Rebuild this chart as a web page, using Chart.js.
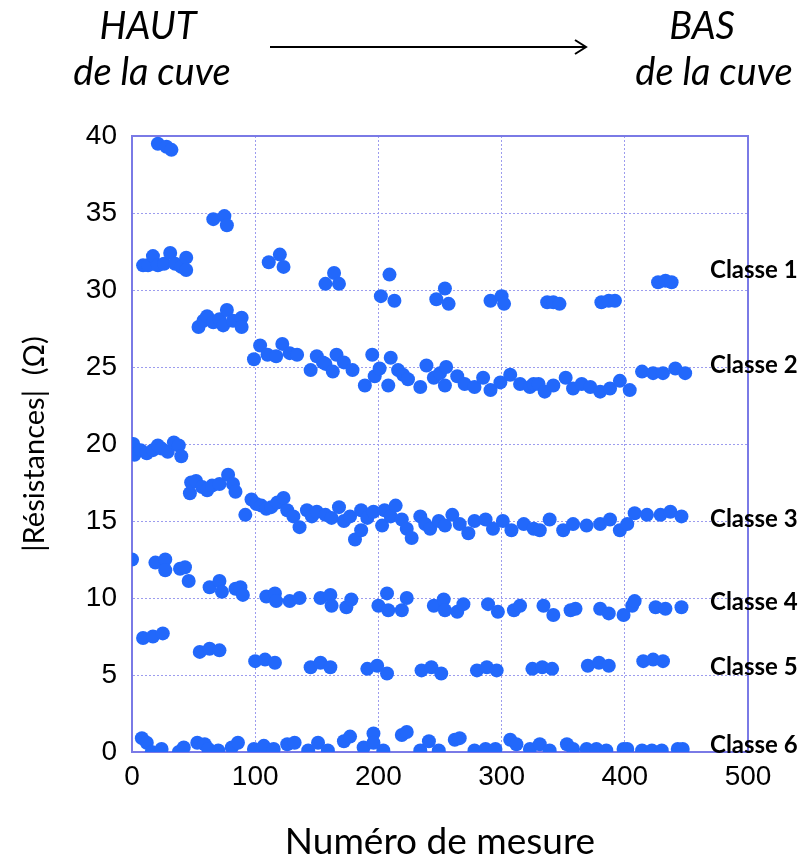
<!DOCTYPE html>
<html>
<head>
<meta charset="utf-8">
<script src="https://cdn.jsdelivr.net/npm/chart.js@4/dist/chart.umd.min.js"></script>
<style>
  html, body { margin: 0; padding: 0; background: #fff; }
  #wrap { width: 803px; height: 861px; position: relative; }
</style>
</head>
<body>
<div id="wrap"><canvas id="chart"></canvas></div>
<script>
var class1X = [21, 28, 32, 66, 75, 77, 9, 13, 17, 21, 26, 31, 35, 40, 44, 44, 111, 120, 123, 157, 164, 168, 202, 209, 213, 247, 254, 257, 291, 300, 302, 337, 342, 347, 381, 387, 392, 427, 433, 438];
var class1Y = [39.5, 39.3, 39.1, 34.6, 34.8, 34.2, 31.6, 31.6, 32.2, 31.6, 31.7, 32.4, 31.7, 31.5, 32.1, 31.3, 31.8, 32.3, 31.5, 30.4, 31.1, 30.4, 29.6, 31.0, 29.3, 29.4, 30.1, 29.1, 29.3, 29.6, 29.1, 29.2, 29.2, 29.1, 29.2, 29.3, 29.3, 30.5, 30.6, 30.5];

var class2X = [54, 58, 61, 66, 71, 74, 77, 82, 89, 89, 99, 104, 110, 117, 122, 128, 134, 145, 150, 155, 157, 163, 166, 172, 179, 189, 195, 197, 201, 208, 210, 216, 220, 224, 234, 239, 245, 250, 254, 255, 264, 270, 278, 285, 291, 299, 307, 315, 323, 326, 330, 335, 342, 352, 358, 365, 372, 380, 388, 396, 404, 414, 423, 431, 441, 449];
var class2Y = [27.6, 28.0, 28.3, 27.9, 28.1, 27.7, 28.7, 28.0, 28.2, 27.6, 25.5, 26.4, 25.8, 25.7, 26.5, 25.9, 25.8, 24.8, 25.7, 25.3, 25.2, 24.7, 25.8, 25.3, 24.8, 23.8, 25.8, 24.4, 24.9, 23.8, 25.6, 24.8, 24.5, 24.2, 23.7, 25.1, 24.3, 24.6, 23.8, 25.0, 24.4, 23.9, 23.7, 24.3, 23.5, 24.0, 24.5, 23.9, 23.7, 23.9, 23.9, 23.4, 23.8, 24.3, 23.6, 23.9, 23.7, 23.4, 23.6, 24.1, 23.5, 24.7, 24.6, 24.6, 24.9, 24.6];

var class3X = [1, 2, 7, 12, 17, 21, 24, 29, 34, 38, 40, 47, 48, 52, 57, 61, 65, 71, 78, 82, 84, 92, 97, 101, 105, 109, 113, 118, 123, 126, 131, 136, 142, 146, 150, 157, 162, 168, 172, 177, 181, 186, 186, 191, 196, 203, 205, 210, 214, 219, 223, 227, 234, 238, 242, 249, 254, 260, 266, 273, 278, 287, 293, 301, 308, 318, 326, 331, 339, 350, 358, 369, 380, 388, 396, 402, 408, 418, 429, 437, 446];
var class3Y = [20.0, 19.3, 19.6, 19.4, 19.6, 19.9, 19.7, 19.5, 20.1, 19.9, 19.2, 16.8, 17.5, 17.6, 17.2, 17.0, 17.3, 17.4, 18.0, 17.4, 16.9, 15.4, 16.4, 16.1, 16.0, 15.8, 15.9, 16.2, 16.5, 15.7, 15.3, 14.6, 15.7, 15.3, 15.6, 15.4, 15.2, 15.9, 15.0, 15.3, 13.8, 15.7, 14.4, 15.2, 15.6, 14.7, 15.7, 15.3, 16.0, 15.1, 14.5, 13.9, 15.3, 14.8, 14.5, 15.0, 14.7, 15.4, 14.8, 14.2, 15.0, 15.1, 14.5, 15.0, 14.4, 14.8, 14.5, 14.4, 15.1, 14.4, 14.8, 14.7, 14.8, 15.1, 14.4, 14.8, 15.5, 15.4, 15.4, 15.6, 15.3];

var class4X = [0, 19, 27, 27, 39, 43, 46, 63, 71, 73, 84, 88, 90, 109, 116, 117, 128, 136, 153, 161, 162, 174, 178, 200, 207, 208, 219, 223, 245, 253, 254, 264, 269, 289, 297, 310, 315, 334, 342, 356, 360, 380, 387, 399, 406, 408, 425, 433, 446];
var class4Y = [12.5, 12.3, 12.5, 11.8, 11.9, 12.0, 11.1, 10.7, 11.1, 10.4, 10.6, 10.7, 10.2, 10.1, 10.3, 9.8, 9.8, 10.0, 10.0, 10.2, 9.5, 9.4, 9.9, 9.5, 10.3, 9.2, 9.2, 10.0, 9.5, 9.9, 9.2, 9.1, 9.6, 9.6, 9.1, 9.2, 9.5, 9.5, 8.9, 9.2, 9.3, 9.3, 9.0, 8.9, 9.5, 9.8, 9.4, 9.3, 9.4];

var class5X = [9, 17, 25, 55, 63, 71, 100, 108, 116, 145, 153, 161, 191, 199, 207, 235, 243, 251, 280, 288, 296, 325, 333, 341, 370, 379, 387, 415, 423, 431];
var class5Y = [7.4, 7.5, 7.7, 6.5, 6.7, 6.6, 5.9, 6.0, 5.8, 5.5, 5.8, 5.5, 5.4, 5.6, 5.1, 5.3, 5.5, 5.1, 5.3, 5.5, 5.3, 5.4, 5.5, 5.4, 5.6, 5.8, 5.6, 5.9, 6.0, 5.9];

var class6X = [8, 12, 16, 24, 38, 42, 53, 59, 62, 70, 81, 86, 99, 107, 115, 126, 132, 143, 151, 159, 172, 177, 188, 196, 196, 204, 219, 223, 234, 241, 249, 262, 266, 278, 287, 295, 307, 312, 323, 331, 339, 353, 358, 369, 377, 385, 399, 402, 414, 422, 430, 443, 447];
var class6Y = [0.9, 0.6, 0.0, 0.2, 0.0, 0.3, 0.6, 0.5, 0.2, 0.1, 0.3, 0.6, 0.2, 0.4, 0.2, 0.5, 0.6, 0.1, 0.6, 0.1, 0.7, 1.0, 0.3, 1.2, 0.6, 0.1, 1.1, 1.3, 0.1, 0.7, 0.1, 0.8, 0.9, 0.1, 0.2, 0.2, 0.8, 0.5, 0.2, 0.5, 0.1, 0.5, 0.2, 0.2, 0.2, 0.1, 0.2, 0.2, 0.1, 0.1, 0.1, 0.2, 0.2];

var classNames = ['Classe 1', 'Classe 2', 'Classe 3', 'Classe 4', 'Classe 5', 'Classe 6'];
// value at which each class label sits, on the resistance axis
var classLabelAt = [31.3, 25.1, 15.1, 9.7, 5.5, 0.45];

var xTitle = 'Numéro de mesure';
var yTitle = '|Résistances|  (Ω)';

var POINT_COLOR = '#2268fb';
var GRID_COLOR = '#9c9cee';
var FRAME_COLOR = '#7a7ae6';
var LABEL_FONT = 'Lato, "Open Sans", sans-serif';
var TICK_FONT = '"Liberation Sans", Arial, sans-serif';

function toPoints(xs, ys) {
  return xs.map(function (x, i) { return { x: x, y: ys[i] }; });
}

var allX = [class1X, class2X, class3X, class4X, class5X, class6X];
var allY = [class1Y, class2Y, class3Y, class4Y, class5Y, class6Y];

var datasets = allX.map(function (xs, i) {
  return {
    label: classNames[i],
    data: toPoints(xs, allY[i]),
    backgroundColor: POINT_COLOR,
    borderColor: POINT_COLOR,
    borderWidth: 0,
    pointRadius: 7,
    pointHoverRadius: 7,
  };
});

// frame, header arrow and class labels
var decorPlugin = {
  id: 'decor',
  beforeDatasetsDraw: function (chart) {
    var a = chart.chartArea, ctx = chart.ctx;
    ctx.save();
    ctx.strokeStyle = FRAME_COLOR;
    ctx.lineWidth = 2;
    ctx.strokeRect(a.left, a.top, a.right - a.left, a.bottom - a.top);
    ctx.restore();
  },
  afterDraw: function (chart) {
    var ctx = chart.ctx, yScale = chart.scales.y;
    ctx.save();
    ctx.fillStyle = '#000';
    ctx.textAlign = 'center';
    ctx.textBaseline = 'middle';
    ctx.font = 'italic 38px ' + LABEL_FONT;
    ctx.fillText('HAUT', 148, 27);
    ctx.fillText('de la cuve', 152, 73);
    ctx.fillText('BAS', 702, 27);
    ctx.fillText('de la cuve', 714, 73);

    ctx.strokeStyle = '#000';
    ctx.lineWidth = 2;
    ctx.beginPath();
    ctx.moveTo(270, 47);
    ctx.lineTo(585, 47);
    ctx.moveTo(575, 40);
    ctx.lineTo(586, 47);
    ctx.lineTo(575, 54);
    ctx.stroke();

    ctx.textAlign = 'left';
    ctx.font = 'bold 24px ' + LABEL_FONT;
    classNames.forEach(function (name, i) {
      ctx.fillText(name, 710, yScale.getPixelForValue(classLabelAt[i]));
    });
    ctx.restore();
  }
};

new Chart(document.getElementById('chart'), {
  type: 'scatter',
  data: { datasets: datasets },
  options: {
    responsive: true,
    maintainAspectRatio: false,
    animation: false,
    layout: { padding: { top: 136, right: 55, left: 0, bottom: 0 } },
    plugins: { legend: { display: false }, tooltip: { enabled: false } },
    scales: {
      x: {
        type: 'linear',
        min: 0,
        max: 500,
        afterFit: function (scale) { scale.height = 109; },
        ticks: { stepSize: 100, padding: 8, color: '#000', font: { family: TICK_FONT, size: 28 } },
        grid: { color: GRID_COLOR, lineWidth: 1, drawTicks: false },
        border: { color: FRAME_COLOR, width: 2, dash: [2, 2] },
        title: { display: true, text: xTitle, color: '#000', padding: 0, font: { family: LABEL_FONT, size: 37, lineHeight: 1 } }
      },
      y: {
        type: 'linear',
        min: 0,
        max: 40,
        afterFit: function (scale) { scale.width = 132; },
        ticks: { stepSize: 5, padding: 15, color: '#000', font: { family: TICK_FONT, size: 28 } },
        grid: { color: GRID_COLOR, lineWidth: 1, drawTicks: false },
        border: { color: FRAME_COLOR, width: 2, dash: [2, 2] },
        title: { display: true, text: yTitle, color: '#000', padding: { top: 17, bottom: 0 }, font: { family: LABEL_FONT, size: 29 } }
      }
    }
  },
  plugins: [decorPlugin]
});
</script>
</body>
</html>
